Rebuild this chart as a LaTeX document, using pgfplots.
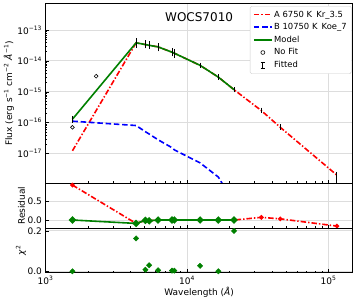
\documentclass[border=0pt]{standalone}
\usepackage{pgfplots}
\pgfplotsset{compat=1.18}
\usepackage{fontspec}
\setmainfont{DejaVu Sans}
\definecolor{mgreen}{HTML}{008000}
\definecolor{gridgray}{HTML}{DDDDDD}
\tikzset{
  rline/.style={red, line width=1.6pt, dash pattern=on 5.5pt off 2pt on 1.4pt off 2pt},
  bline/.style={blue, line width=1.6pt, dash pattern=on 5.5pt off 2.8pt},
  gline/.style={mgreen, line width=1.6pt},
}
\pgfplotsset{
  every axis/.append style={
    scale only axis, width=307.2pt, anchor=south west,
    xmin=1000, xmax=1.48e5,
    tick align=inside, xtick pos=bottom, ytick pos=left,
    grid=major, major grid style={gridgray, line width=0.9pt},
    axis line style={black, line width=0.8pt},
    tick style={black, line width=0.6pt},
    major tick length=3.5pt, minor tick length=2pt,
    tick label style={font=\fontsize{9}{10}\selectfont},
    label style={font=\fontsize{9}{10}\selectfont},
    xtick={1e3,1e4,1e5},
  },
}
\begin{document}
\begin{tikzpicture}
% ---------------- top panel ----------------
\begin{loglogaxis}[at={(0pt,89.4pt)}, height=179.8pt,
  ymin=1.09e-18, ymax=7.25e-13,
  ytick={1e-17,1e-16,1e-15,1e-14,1e-13},
  yticklabels={10\textsuperscript{−17},10\textsuperscript{−16},10\textsuperscript{−15},10\textsuperscript{−14},10\textsuperscript{−13}},
  xticklabels={},
  ylabel={Flux (erg s\textsuperscript{−1} cm\textsuperscript{−2} \textit{Å}\textsuperscript{−1})},
  ylabel style={at={(axis description cs:-0.119,0.5)}, anchor=center},
  legend style={at={(rel axis cs:0.996,0.986)}, anchor=north east,
    font=\fontsize{8.4}{9}\selectfont, draw=black!20, rounded corners=1.5pt,
    row sep=1.6pt, inner sep=3pt, nodes={inner sep=1.6pt}},
  legend cell align=left,
  legend image post style={xscale=1.05},
]
\addplot[rline] coordinates {
(1550,1.23e-17) (4365,3.86e-14) (5080,3.39e-14) (5400,3.2e-14) (6240,2.86e-14)
(7830,1.92e-14) (8130,1.78e-14) (12360,7.2e-15) (16630,3.0e-15) (21480,1.17e-15)
(33500,2.46e-16) (45600,7.07e-17) (114500,2.0e-18)};
\addlegendentry{A 6750 K\enspace Kr\_3.5}
\addplot[bline] coordinates {
(1550,1.12e-16) (4365,8.1e-17) (5080,5.1e-17) (5400,4.3e-17) (6240,2.8e-17)
(7830,1.55e-17) (8130,1.32e-17) (12360,5.0e-18) (16630,1.74e-18) (21480,2.5e-19)};
\addlegendentry{B 10750 K\enspace Koe\_7}
\addplot[gline] coordinates {
(1550,1.30e-16) (4365,3.87e-14) (5080,3.40e-14) (5400,3.2e-14) (6240,2.86e-14)
(7830,1.92e-14) (8130,1.78e-14) (12360,7.2e-15) (16630,3.0e-15) (21480,1.17e-15)};
\addlegendentry{Model}
\addplot[only marks, mark=o, mark size=1.9pt, black, mark options={line width=0.6pt}] coordinates {
(1550,7.1e-17) (2280,3.2e-15)};
\addlegendentry{No Fit}
\addplot[draw=none, mark=none,
  legend image code/.code={
    \draw[black, line width=0.9pt] (0.3cm,-0.1cm) -- (0.3cm,0.1cm);
    \draw[black, line width=0.9pt] (0.3cm-2.2pt,-0.1cm) -- (0.3cm+2.2pt,-0.1cm);
    \draw[black, line width=0.9pt] (0.3cm-2.2pt,0.1cm) -- (0.3cm+2.2pt,0.1cm);},
  error bars/.cd, y dir=both, y explicit relative,
  error bar style={draw=black, solid, line width=0.9pt},
  error mark options={draw=black, mark size=2.4pt, line width=0.9pt}]
  table[x=x, y=y, y error=e] {
x y e
1550 1.30e-16 0.08
4365 3.85e-14 0.17
5080 3.45e-14 0.12
5400 3.3e-14 0.12
6240 2.8e-14 0.12
7830 1.95e-14 0.13
8130 1.75e-14 0.13
12360 7.2e-15 0.02
16630 3.0e-15 0.02
21480 1.17e-15 0.02
33500 2.5e-16 0.02
45600 7.2e-17 0.02
114500 1.7e-18 0.25
};
\addlegendentry{Fitted}
\node[font=\fontsize{12}{14}\selectfont] at (rel axis cs:0.5,0.925) {WOCS7010};
\end{loglogaxis}
% ---------------- residual panel ----------------
\begin{semilogxaxis}[at={(0pt,44.4pt)}, height=45pt,
  ymin=-0.218, ymax=0.966, ytick={0,0.5}, yticklabels={0.0,0.5},
  xticklabels={},
  ylabel={Residual},
  ylabel style={at={(axis description cs:-0.078,0.5)}, anchor=center},
]
\addplot[rline, mark=*, mark size=1.4pt, mark options={solid}] coordinates {
(1550,0.92) (4365,-0.09) (5080,-0.01) (5400,-0.02) (6240,0.0) (7830,0.0) (8130,0.0)
(12360,0.0) (16630,0.0) (21480,0.0) (33500,0.07) (45600,0.03) (114500,-0.16)};
\addplot[gline, mark=square*, mark size=1.9pt, mark options={rotate=45}] coordinates {
(1550,0.0) (4365,-0.09) (5080,-0.01) (5400,-0.02) (6240,0.0) (7830,0.0) (8130,0.0)
(12360,0.0) (16630,0.0) (21480,0.0)};
\end{semilogxaxis}
% ---------------- chi2 panel ----------------
\begin{semilogxaxis}[at={(0pt,0pt)}, height=44.4pt,
  ymin=-0.007, ymax=0.213, ytick={0,0.2}, yticklabels={0.0,0.2},
  xticklabels={10\textsuperscript{3},10\textsuperscript{4},10\textsuperscript{5}},
  xlabel={Wavelength (\textit{Å})},
  xlabel style={at={(axis description cs:0.5,-0.435)}, anchor=center},
  ylabel={\textit{χ}\textsuperscript{2}},
  ylabel style={at={(axis description cs:-0.08,0.5)}, anchor=center},
]
\addplot[only marks, mgreen, mark=square*, mark size=1.9pt, mark options={rotate=45}] coordinates {
(1550,0.0) (4365,0.163) (5080,0.008) (5400,0.03) (6240,0.005) (7830,0.003) (8130,0.003)
(12360,0.027) (16630,0.0) (21480,0.2)};
\end{semilogxaxis}
\pgfresetboundingbox
\path[use as bounding box] (-45.5pt,-29.3pt) rectangle (311.5pt,272.7pt);
\end{tikzpicture}
\end{document}
